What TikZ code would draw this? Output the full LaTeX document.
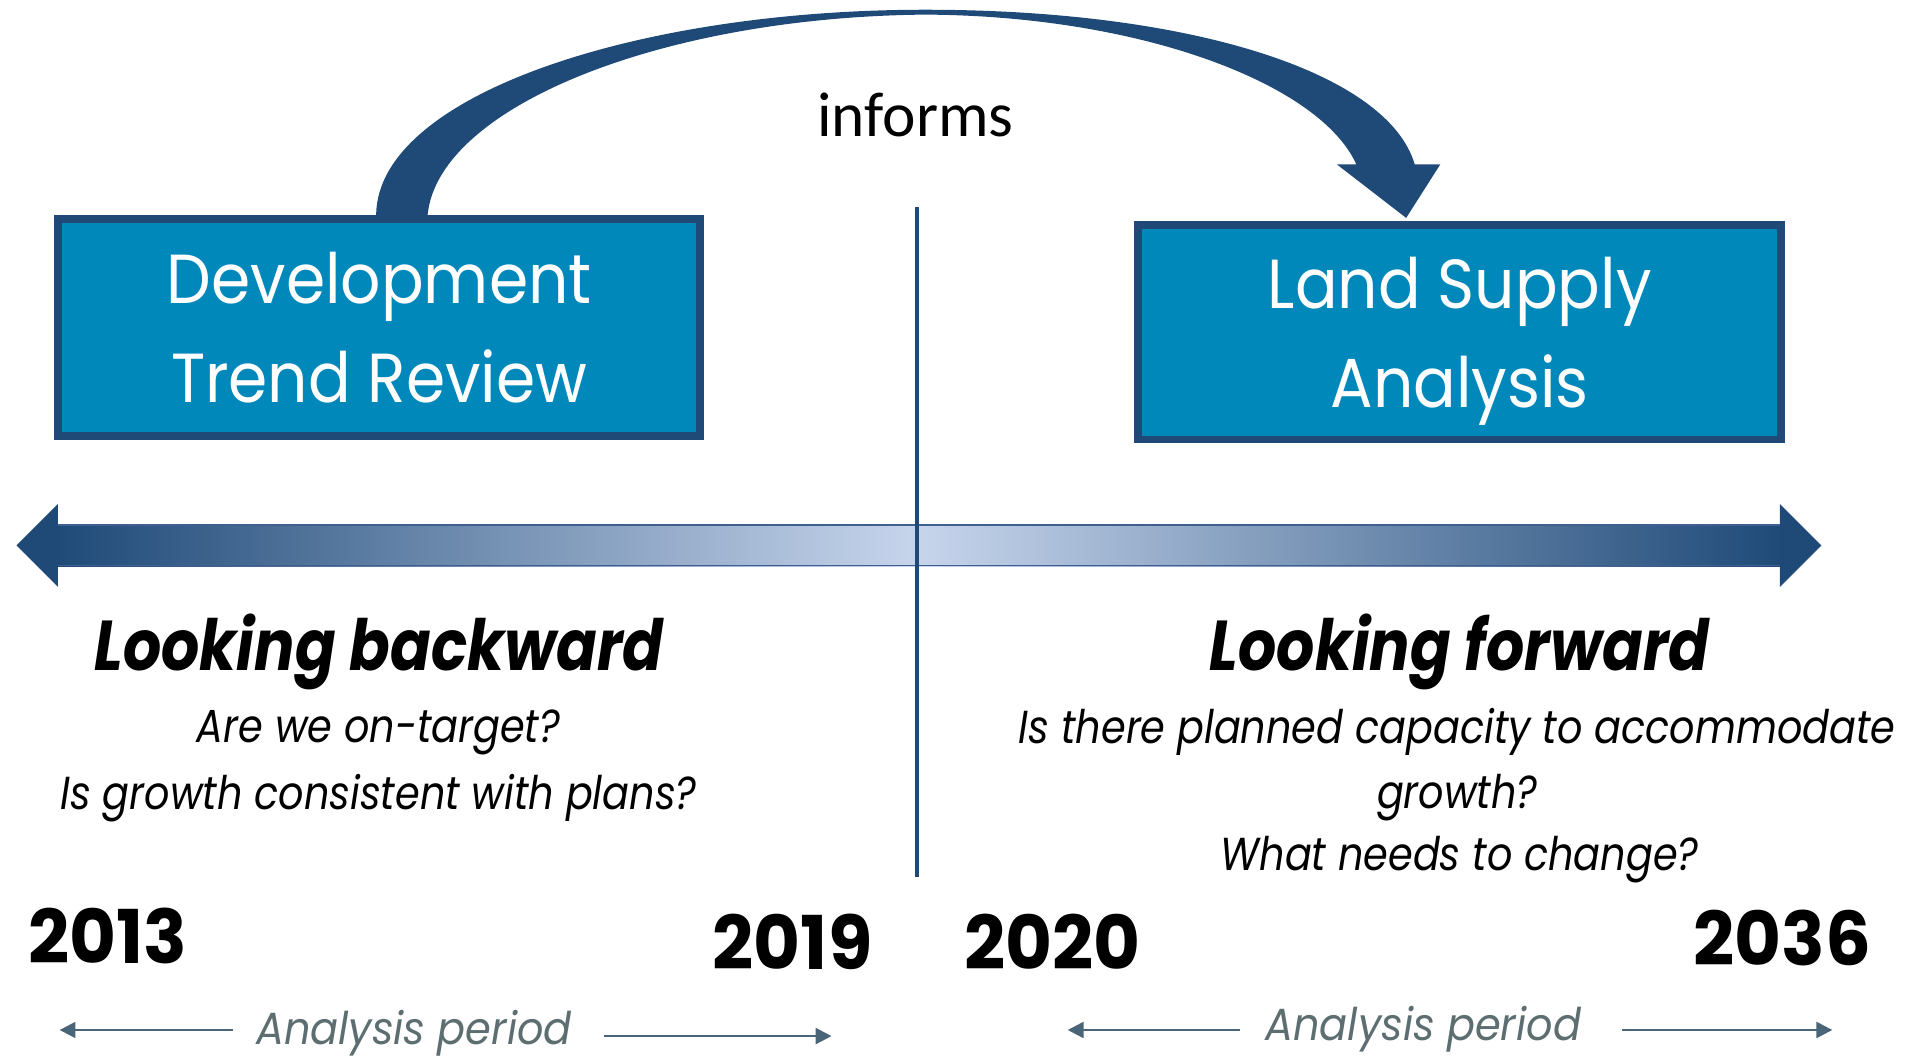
\documentclass[tikz,border=0pt]{standalone}
\usepackage{fontspec}
\usetikzlibrary{arrows.meta,calc}
\newfontfamily\boxfont[FakeStretch=0.91]{Poppins}
\newfontfamily\headfont[FakeStretch=0.85]{Poppins}
\newfontfamily\qfont[FakeStretch=0.86]{Poppins}
\newfontfamily\yearfont[FakeStretch=0.97]{Poppins}
\newfontfamily\apfont[FakeStretch=0.92]{Poppins}
\newfontfamily\infont{Carlito}
\definecolor{navy}{HTML}{1F4A78}
\definecolor{boxfill}{HTML}{0088BB}
\definecolor{arrlight}{HTML}{C7D5EC}
\definecolor{arrline}{HTML}{3F5F90}
\definecolor{apgray}{HTML}{5D6E70}
\definecolor{aparrow}{HTML}{4A6478}
\begin{document}
\begin{tikzpicture}[x=1pt,y=-1pt,
  bigbox/.style={draw=navy, line width=6.5pt, fill=boxfill, text=white, align=center,
    font=\boxfont\fontsize{57}{81}\selectfont, minimum width=527pt, minimum height=178pt,
    inner sep=0pt, text depth=0pt},
  year/.style={anchor=base, inner sep=0pt, font=\yearfont\bfseries\fontsize{61}{61}\selectfont},
  headline/.style={anchor=base, inner sep=0pt, font=\headfont\bfseries\itshape\fontsize{58}{58}\selectfont},
  question/.style={anchor=base, inner sep=0pt, font=\qfont\itshape\fontsize{38}{38}\selectfont},
  period/.style={anchor=base, inner sep=0pt, text=apgray, font=\apfont\itshape\fontsize{37}{37}\selectfont},
  periodarrow/.style={draw=aparrow, line width=2pt, -{Triangle[length=13pt,width=13pt]}},
]
\fill[white] (0,0) rectangle (1568,869);
\useasboundingbox (0,0) rectangle (1568,869);

% curved "informs" arrow
\fill[navy] (309,180) .. controls (305,80) and (520,8) .. (760,8)
  .. controls (980,8) and (1140,60) .. (1162,135) -- (1183,135) -- (1155,179) -- (1098,135) -- (1114,135)
  .. controls (1085,70) and (940,13) .. (760,12)
  .. controls (540,14) and (355,90) .. (351,180) -- cycle;

% boxes
\node[bigbox] (dtr) at (311.5,269) {Development\\Trend Review};
\node[bigbox, minimum width=528pt, minimum height=176pt] (lsa) at (1199,273) {Land Supply\\Analysis};

% informs label
\node[anchor=base, inner sep=0pt, font=\infont\fontsize{52}{52}\selectfont] (inf) at (752,112) {informs};

% double timeline arrow
\shade[left color=navy, right color=arrlight] (47,431) rectangle (753,465);
\shade[left color=arrlight, right color=navy] (753,431) rectangle (1462,465);
\draw[arrline, line width=1.5pt] (47,431.5) -- (1462,431.5);
\draw[arrline, line width=1.5pt] (47,464.5) -- (1462,464.5);
\fill[navy] (13.5,448) -- (47.5,414) -- (47.5,482) -- cycle;
\fill[navy] (1496,448) -- (1462,414) -- (1462,482) -- cycle;

% divider
\draw[navy, line width=3pt] (753,170) -- (753,720);

% headings and questions
\node[headline] (lb) at (311.5,551) {Looking backward};
\node[headline] (lf) at (1199,551) {Looking forward};
\node[question] (q1) at (311,610) {Are we on-target?};
\node[question] (q2) at (311,665) {Is growth consistent with plans?};
\node[question] (q3) at (1197,611) {Is there planned capacity to accommodate};
\node[question] (q4) at (1197,664) {growth?};
\node[question] (q5) at (1199,715) {What needs to change?};

% years
\node[year] (y13) at (88.5,791) {2013};
\node[year] (y19) at (651,796) {2019};
\node[year] (y20) at (864.5,796) {2020};
\node[year] (y36) at (1464,793) {2036};

% analysis periods
\node[period] (ap1) at (340,858) {Analysis period};
\node[period] (ap2) at (1169,855) {Analysis period};
\coordinate (e1) at (49,846);
\coordinate (e2) at (683,851);
\coordinate (e3) at (877,846);
\coordinate (e4) at (1505,846);
\draw[periodarrow] ($(ap1.west|-e1)+(-19,0)$) -- (e1);
\draw[periodarrow] ($(ap1.east|-e2)+(26,0)$) -- (e2);
\draw[periodarrow] ($(ap2.west|-e3)+(-21,0)$) -- (e3);
\draw[periodarrow] ($(ap2.east|-e4)+(33,0)$) -- (e4);
\end{tikzpicture}
\end{document}
